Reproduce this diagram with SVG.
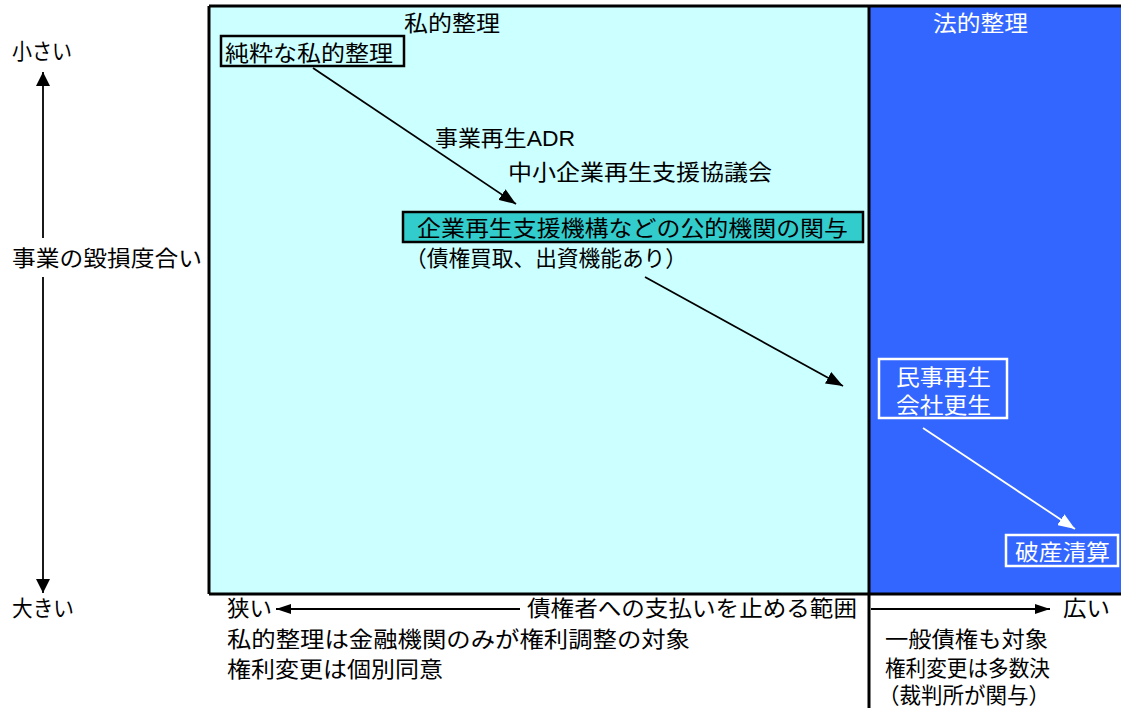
<svg xmlns="http://www.w3.org/2000/svg" width="1121" height="708" viewBox="0 0 1121 708">
<defs>
<style>
text{font-family:"Liberation Sans","Noto Sans CJK JP","Noto Sans",sans-serif;font-size:22px;fill:#000}
.w{fill:#fff}
.ln{stroke:#000;stroke-width:1.8;fill:none}
.wl{stroke:#fff;stroke-width:1.8;fill:none}
</style>
<marker id="ah" viewBox="0 0 10 10" refX="10" refY="5" markerWidth="17" markerHeight="13" markerUnits="userSpaceOnUse" orient="auto" preserveAspectRatio="none"><path d="M0,0L10,5L0,10Z" fill="#000"/></marker>
<marker id="ahv" viewBox="0 0 10 10" refX="10" refY="5" markerWidth="14" markerHeight="14" markerUnits="userSpaceOnUse" orient="auto" preserveAspectRatio="none"><path d="M0,0L10,5L0,10Z" fill="#000"/></marker>
<marker id="ahw" viewBox="0 0 10 10" refX="10" refY="5" markerWidth="17" markerHeight="13" markerUnits="userSpaceOnUse" orient="auto" preserveAspectRatio="none"><path d="M0,0L10,5L0,10Z" fill="#fff"/></marker>
<marker id="ahs" viewBox="0 0 10 10" refX="10" refY="5" markerWidth="15" markerHeight="10" markerUnits="userSpaceOnUse" orient="auto" preserveAspectRatio="none"><path d="M0,0L10,5L0,10Z" fill="#000"/></marker>
</defs>
<g id="background">
<rect x="209" y="6" width="660" height="588" fill="#CCFFFF"/>
<rect x="869" y="6" width="252" height="588" fill="#3366FF"/>
<path d="M209,6H1121M209,594H1121M209,6V594" stroke="#000" stroke-width="3" fill="none"/>
<path d="M869,6V708" stroke="#000" stroke-width="3" fill="none"/>
</g>
<g id="axis-labels">
<text x="12" y="59" textLength="60" lengthAdjust="spacingAndGlyphs">小さい</text>
<text x="12" y="266" textLength="190" lengthAdjust="spacingAndGlyphs">事業の毀損度合い</text>
<text x="12" y="616" textLength="62" lengthAdjust="spacingAndGlyphs">大きい</text>
<text x="404" y="31" textLength="96" lengthAdjust="spacingAndGlyphs">私的整理</text>
<text class="w" x="933" y="31" textLength="95" lengthAdjust="spacingAndGlyphs">法的整理</text>
</g>
<g id="node-pure">
<rect x="221" y="36" width="183" height="30" fill="none" stroke="#000" stroke-width="2.5"/>
<text x="225" y="61" textLength="168" lengthAdjust="spacingAndGlyphs">純粋な私的整理</text>
</g>
<g id="node-adr">
<text x="435" y="146" textLength="140" lengthAdjust="spacingAndGlyphs">事業再生ADR</text>
<text x="508" y="180" textLength="264" lengthAdjust="spacingAndGlyphs">中小企業再生支援協議会</text>
</g>
<g id="node-public">
<rect x="403" y="212" width="460" height="30" fill="#33CCCC" stroke="#000" stroke-width="2.5"/>
<text x="417" y="236" textLength="431" lengthAdjust="spacingAndGlyphs">企業再生支援機構などの公的機関の関与</text>
<text x="405" y="266" textLength="282" lengthAdjust="spacingAndGlyphs">（債権買取、出資機能あり）</text>
</g>
<g id="node-legal">
<rect x="879" y="359" width="128" height="59" fill="none" stroke="#fff" stroke-width="2.5"/>
<text class="w" x="896" y="385" textLength="95" lengthAdjust="spacingAndGlyphs">民事再生</text>
<text class="w" x="896" y="413" textLength="95" lengthAdjust="spacingAndGlyphs">会社更生</text>
</g>
<g id="node-bankruptcy">
<rect x="1006" y="535" width="112" height="31" fill="none" stroke="#fff" stroke-width="2.5"/>
<text class="w" x="1015" y="560" textLength="95" lengthAdjust="spacingAndGlyphs">破産清算</text>
</g>
<g id="bottom-labels">
<text x="227" y="616" textLength="45" lengthAdjust="spacingAndGlyphs">狭い</text>
<text x="527" y="616" textLength="330" lengthAdjust="spacingAndGlyphs">債権者への支払いを止める範囲</text>
<text x="227" y="647" textLength="463" lengthAdjust="spacingAndGlyphs">私的整理は金融機関のみが権利調整の対象</text>
<text x="227" y="677" textLength="216" lengthAdjust="spacingAndGlyphs">権利変更は個別同意</text>
<text x="1063" y="616" textLength="47" lengthAdjust="spacingAndGlyphs">広い</text>
<text x="885" y="647" textLength="163" lengthAdjust="spacingAndGlyphs">一般債権も対象</text>
<text x="885" y="676" textLength="165" lengthAdjust="spacingAndGlyphs">権利変更は多数決</text>
<text x="878" y="703" textLength="172" lengthAdjust="spacingAndGlyphs">（裁判所が関与）</text>
</g>
<g id="connectors">
<line class="ln" x1="43" y1="238" x2="43" y2="72" marker-end="url(#ahv)"/>
<line class="ln" x1="43" y1="277" x2="43" y2="593" marker-end="url(#ahv)"/>
<line class="ln" x1="313" y1="68" x2="516" y2="204" marker-end="url(#ah)"/>
<line class="ln" x1="645" y1="277" x2="843" y2="386" marker-end="url(#ah)"/>
<line class="wl" x1="923" y1="428" x2="1075" y2="529" marker-end="url(#ahw)"/>
<line class="ln" x1="520" y1="609" x2="276" y2="609" marker-end="url(#ahs)"/>
<line class="ln" x1="871" y1="609" x2="1050" y2="609" marker-end="url(#ahs)"/>
</g>
</svg>
